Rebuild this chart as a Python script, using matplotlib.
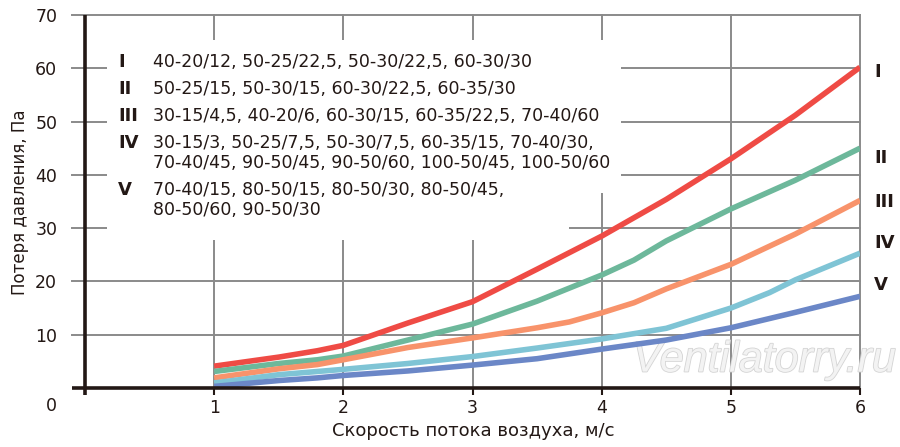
import matplotlib
matplotlib.use("Agg")
import matplotlib.pyplot as plt
from matplotlib.patches import Rectangle
import matplotlib.patheffects as pe

plt.rcParams['font.family'] = ['DejaVu Sans']

# ---- data ----
x_I = [1, 1.5, 1.8, 2, 2.5, 3, 3.5, 4, 4.5, 5, 5.5, 6]
y_I = [4.1, 5.8, 7.0, 8.0, 12.2, 16.2, 22.3, 28.5, 35.4, 43.0, 51.2, 60.2]

x_II = [1, 1.5, 1.8, 2, 2.5, 3, 3.5, 4, 4.25, 4.5, 5, 5.5, 6]
y_II = [3.1, 4.6, 5.3, 6.0, 9.0, 12.0, 16.3, 21.2, 24.0, 27.6, 33.6, 39.0, 45.0]

x_III = [1, 1.5, 1.8, 2, 2.5, 3, 3.5, 3.75, 4, 4.25, 4.5, 5, 5.5, 6]
y_III = [1.9, 3.6, 4.4, 5.3, 7.6, 9.4, 11.3, 12.4, 14.1, 16.0, 18.6, 23.2, 28.9, 35.2]

x_IV = [1, 1.5, 1.8, 2, 2.5, 3, 3.5, 4, 4.5, 4.75, 5, 5.3, 5.5, 6]
y_IV = [0.95, 2.5, 3.1, 3.5, 4.6, 5.9, 7.5, 9.2, 11.2, 13.1, 15.0, 17.9, 20.3, 25.3]

x_V = [1, 1.5, 1.8, 2, 2.5, 3, 3.5, 4, 4.5, 5, 5.5, 6]
y_V = [0.3, 1.4, 1.9, 2.35, 3.2, 4.3, 5.5, 7.3, 9.0, 11.3, 14.2, 17.2]

series_names = ["I", "II", "III", "IV", "V"]
series_x = [x_I, x_II, x_III, x_IV, x_V]
series_y = [y_I, y_II, y_III, y_IV, y_V]
series_colors = ["#EF4B45", "#6DB89B", "#F8936B", "#7FC4D5", "#6B87C7"]

legend_rows = [
    ("I", ["40-20/12, 50-25/22,5, 50-30/22,5, 60-30/30"]),
    ("II", ["50-25/15, 50-30/15, 60-30/22,5, 60-35/30"]),
    ("III", ["30-15/4,5, 40-20/6, 60-30/15, 60-35/22,5, 70-40/60"]),
    ("IV", ["30-15/3, 50-25/7,5, 50-30/7,5, 60-35/15, 70-40/30,",
            "70-40/45, 90-50/45, 90-50/60, 100-50/45, 100-50/60"]),
    ("V", ["70-40/15, 80-50/15, 80-50/30, 80-50/45,",
           "80-50/60, 90-50/30"]),
]

x_ticks = [1, 2, 3, 4, 5, 6]
y_ticks = [10, 20, 30, 40, 50, 60, 70]
xlabel = "Скорость потока воздуха, м/с"
ylabel = "Потеря давления, Па"

DARK = "#231815"
GRID = "#8a8a8a"

W, H = 900, 447
fig = plt.figure(figsize=(9, 4.47), dpi=100)
ax = fig.add_axes([85 / W, 1 - 388 / H, (860 - 85) / W, (388 - 15) / H])
ax.set_xlim(0, 6)
ax.set_ylim(0, 70)
for s in ax.spines.values():
    s.set_visible(False)

# grid
for yv in y_ticks:
    ax.plot([-0.1, 6], [yv, yv], color=GRID, lw=1.4, zorder=1, clip_on=False)
for xv in x_ticks:
    ax.plot([xv, xv], [0, 70], color=GRID, lw=1.4, zorder=1, clip_on=False)

# white legend area masking grid
ax.add_patch(Rectangle((0.17, 36.6), 4.15 - 0.17, 65.3 - 36.6,
                       facecolor="white", edgecolor="none", zorder=2))
ax.add_patch(Rectangle((0.17, 27.8), 3.75 - 0.17, 36.6 - 27.8,
                       facecolor="white", edgecolor="none", zorder=2))

# watermark
ax.text(4.24, 1.4, "Ventilatorry.ru", fontsize=31, family="Liberation Sans",
        style="italic", color="#f3f3f3", ha="left", va="bottom", zorder=2,
        clip_on=False,
        path_effects=[pe.Stroke(linewidth=1.2, foreground="#d4d4d4"), pe.Normal()])

# axes lines
ax.plot([-0.1, 6], [0, 0], color=DARK, lw=2.6, zorder=5, clip_on=False,
        solid_capstyle="butt")
ax.plot([0, 0], [-1.3, 70], color=DARK, lw=2.6, zorder=5, clip_on=False,
        solid_capstyle="butt")

# curves
for xs, ys, c in zip(series_x, series_y, series_colors):
    ax.plot(xs, ys, color=c, lw=4.0, solid_capstyle="butt",
            solid_joinstyle="round", zorder=4)

# right-side labels
right_label_y = [72, 158, 202, 243, 285]
for name, py in zip(series_names, right_label_y):
    fig.text(874 / W, 1 - py / H, name, fontsize=13, fontweight="bold",
             color=DARK, ha="left", va="center")

# ticks
ax.set_xticks(x_ticks)
ax.set_xticklabels([str(v) for v in x_ticks])
ax.set_yticks(y_ticks)
ax.set_yticklabels([str(v) for v in y_ticks])
ax.tick_params(axis="x", direction="out", length=5, width=1.5, color=DARK,
               labelsize=12.5, labelcolor=DARK, pad=3)
ax.tick_params(axis="y", length=0, labelsize=12.5, labelcolor=DARK, pad=20)
fig.text(57 / W, 1 - 406 / H, "0", fontsize=12.5, color=DARK,
         ha="right", va="center")

fig.text(473 / W, 1 - 431 / H, xlabel, fontsize=13, color=DARK,
         ha="center", va="center")
fig.text(20 / W, 1 - 202 / H, ylabel, fontsize=12, color=DARK,
         ha="center", va="center", rotation=90)

# legend block
row_y = [[62], [89], [116], [143, 163], [190, 210]]
for (num, lines), ys in zip(legend_rows, row_y):
    fig.text(118 / W, 1 - ys[0] / H, num, fontsize=13, fontweight="bold",
             color=DARK, ha="left", va="center")
    for line, py in zip(lines, ys):
        fig.text(153 / W, 1 - py / H, line, fontsize=12.5, color=DARK,
                 ha="left", va="center")

fig.savefig("out.png", dpi=100, facecolor="white")
